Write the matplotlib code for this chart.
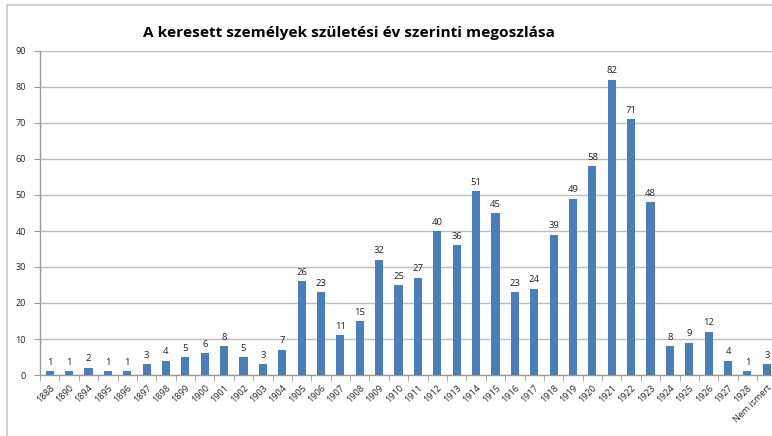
import matplotlib.pyplot as plt
from matplotlib.lines import Line2D
import numpy as np

plt.rcParams['font.family'] = ['Open Sans', 'DejaVu Sans']

# Data
years = ['1888', '1890', '1894', '1895', '1896', '1897', '1898', '1899', '1900',
         '1901', '1902', '1903', '1904', '1905', '1906', '1907', '1908', '1909',
         '1910', '1911', '1912', '1913', '1914', '1915', '1916', '1917', '1918',
         '1919', '1920', '1921', '1922', '1923', '1924', '1925', '1926', '1927',
         '1928', 'Nem ismert']
counts = [1, 1, 2, 1, 1, 3, 4, 5, 6, 8, 5, 3, 7, 26, 23, 11, 15, 32, 25, 27,
          40, 36, 51, 45, 23, 24, 39, 49, 58, 82, 71, 48, 8, 9, 12, 4, 1, 3]
y_ticks = list(range(0, 91, 10))

W, H = 772, 436
fig = plt.figure(figsize=(W / 100, H / 100), dpi=100)
fig.patch.set_facecolor('white')

# plot area runs slightly past the right edge, like the cropped original
ax = fig.add_axes([40 / W, 1 - 375 / H, 736.5 / W, 324 / H])

x = np.arange(len(years))
bar_color = '#4a7ebb'
ax.bar(x, counts, width=0.42, color=bar_color, zorder=3)

for xi, v in zip(x, counts):
    ax.text(xi, v + 1.2, str(v), ha='center', va='bottom', fontsize=6.8, color='#222222')

ax.set_xlim(-0.5, len(years) - 0.5)
ax.set_ylim(0, 90)
ax.set_yticks(y_ticks)
ax.set_yticklabels([str(t) for t in y_ticks], fontsize=6.5, color='#222222')
ax.yaxis.grid(True, color='#bdbdbd', linewidth=1.0, zorder=0)
ax.tick_params(axis='y', length=4, color='#9a9a9a', pad=6)

ax.set_xticks(x)
ax.set_xticklabels(years, rotation=45, ha='right', rotation_mode='anchor', fontsize=6.5, color='#222222')
ax.tick_params(axis='x', length=0, pad=6)
ax.set_xticks(np.arange(-0.5, len(years), 1), minor=True)
ax.tick_params(axis='x', which='minor', length=4, color='#9a9a9a')

for side in ['top', 'right']:
    ax.spines[side].set_visible(False)
for side in ['left', 'bottom']:
    ax.spines[side].set_color('#9a9a9a')
    ax.spines[side].set_linewidth(1.0)

fig.text(349 / W, 1 - 33 / H, 'A keresett személyek születési év szerinti megoszlása',
         ha='center', va='center', fontsize=11.1, fontweight='bold', color='black')

# outer chart border (only left and top visible in the crop)
fig.add_artist(Line2D([6.5 / W, 6.5 / W], [0, 1 - 5.5 / H], color='#c8c8c8', linewidth=1.2))
fig.add_artist(Line2D([6.5 / W, 1], [1 - 5.5 / H, 1 - 5.5 / H], color='#c8c8c8', linewidth=1.2))

fig.savefig('out.png', dpi=100)
